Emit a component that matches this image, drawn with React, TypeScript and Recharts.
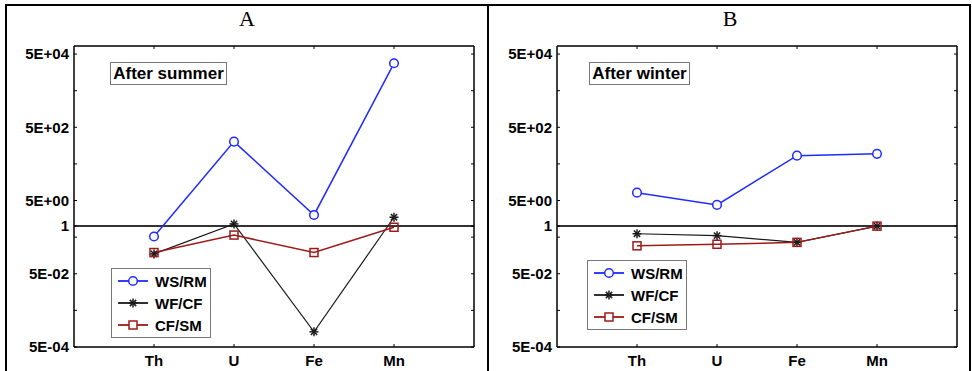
import React from 'react';
import { LineChart, Line, XAxis, YAxis, ReferenceLine } from 'recharts';

const elements = ['Th', 'U', 'Fe', 'Mn'];

// After summer (panel A)
const summerWsRm = [0.52, 203, 2.02, 28000];
const summerWfCf = [0.174, 1.15, 0.0013, 1.75];
const summerCfSm = [0.19, 0.57, 0.19, 0.93];

// After winter (panel B)
const winterWsRm = [8.2, 3.8, 84, 94];
const winterWfCf = [0.62, 0.55, 0.36, 1.0];
const winterCfSm = [0.29, 0.32, 0.36, 1.0];

const yTicks = [5e-4, 5e-2, 1, 5, 500, 5e4];
const yMinorTicks = [5e-4, 5e-3, 5e-2, 0.5, 1, 5, 50, 500, 5e3, 5e4];
const yTickLabels: Record<string, string> = {
  '0.0005': '5E-04',
  '0.05': '5E-02',
  '1': '1',
  '5': '5E+00',
  '500': '5E+02',
  '50000': '5E+04',
};

const Y_DOMAIN: [number, number] = [5e-4, 8.3e4];
const BLUE = '#1f2bff';
const RED = '#9e1a1a';
const BLACK = '#1a1a1a';
const FONT = 'Arial, "Liberation Sans", sans-serif';

const CircleDot = (props: any) => {
  const { cx, cy, index } = props;
  return <circle key={index} cx={cx} cy={cy} r={4.3} fill="#fff" stroke={BLUE} strokeWidth={1.5} />;
};

const StarDot = (props: any) => {
  const { cx, cy, index } = props;
  const r = 4.5;
  const d = r * 0.7;
  return (
    <g key={index} stroke={BLACK} strokeWidth={1.5}>
      <line x1={cx} y1={cy - r} x2={cx} y2={cy + r} />
      <line x1={cx - r} y1={cy} x2={cx + r} y2={cy} />
      <line x1={cx - d} y1={cy - d} x2={cx + d} y2={cy + d} />
      <line x1={cx - d} y1={cy + d} x2={cx + d} y2={cy - d} />
    </g>
  );
};

const SquareDot = (props: any) => {
  const { cx, cy, index } = props;
  return <rect key={index} x={cx - 4} y={cy - 4} width={8} height={8} fill="none" stroke={RED} strokeWidth={1.5} />;
};

function LegendIcon({ kind }: { kind: string }) {
  const color = kind === 'ws' ? BLUE : kind === 'wf' ? BLACK : RED;
  return (
    <svg width={32} height={14} style={{ display: 'block' }}>
      <line x1={1} y1={7} x2={31} y2={7} stroke={color} strokeWidth={1.8} />
      {kind === 'ws' && <CircleDot cx={16} cy={7} />}
      {kind === 'wf' && <StarDot cx={16} cy={7} />}
      {kind === 'cf' && <rect x={12} y={3} width={8} height={8} fill="#fff" stroke={RED} strokeWidth={1.5} />}
    </svg>
  );
}

interface PanelProps {
  left: number;
  title: string;
  note: string;
  noteBox: { left: number; top: number; width: number };
  legendBox: { left: number; top: number; width: number };
  wsRm: number[];
  wfCf: number[];
  cfSm: number[];
}

function Panel({ left, title, note, noteBox, legendBox, wsRm, wfCf, cfSm }: PanelProps) {
  const data = elements.map((el, i) => ({
    el,
    wsRm: wsRm[i],
    wfCf: wfCf[i],
    cfSm: cfSm[i],
  }));

  const emptyLabel = () => '';

  return (
    <div style={{ position: 'absolute', left, top: 0, width: 482, height: 371 }}>
      <div
        style={{
          position: 'absolute',
          left: 0,
          width: 482,
          top: 6,
          textAlign: 'center',
          fontFamily: '"Liberation Serif", "Times New Roman", serif',
          fontSize: 22,
          lineHeight: '26px',
        }}
      >
        {title}
      </div>
      <LineChart width={482} height={371} data={data} margin={{ top: 46, right: 14, bottom: 0, left: 0 }}>
        <XAxis
          dataKey="el"
          xAxisId={0}
          padding={{ left: 80, right: 80 }}
          height={24}
          tickLine={false}
          tickSize={0}
          tickMargin={8}
          axisLine={{ stroke: '#000', strokeWidth: 1.5 }}
          tick={{ fill: '#000', fontSize: 15, fontWeight: 700, fontFamily: FONT }}
        />
        <XAxis
          dataKey="el"
          xAxisId="bottomIn"
          padding={{ left: 80, right: 80 }}
          mirror
          axisLine={false}
          tickSize={3}
          tickLine={{ stroke: '#000' }}
          tickFormatter={emptyLabel}
        />
        <XAxis
          dataKey="el"
          xAxisId="top"
          orientation="top"
          padding={{ left: 80, right: 80 }}
          mirror
          tickSize={3}
          axisLine={{ stroke: '#000', strokeWidth: 1.5 }}
          tickLine={{ stroke: '#000' }}
          tickFormatter={emptyLabel}
        />
        <YAxis
          yAxisId="left"
          type="number"
          scale="log"
          domain={Y_DOMAIN}
          allowDataOverflow
          ticks={yTicks}
          interval={0}
          width={68}
          tickLine={false}
          tickSize={0}
          tickMargin={5}
          axisLine={{ stroke: '#000', strokeWidth: 1.5 }}
          tickFormatter={(v: number) => yTickLabels[String(v)] ?? ''}
          tick={{ fill: '#000', fontSize: 15, fontWeight: 700, fontFamily: FONT }}
        />
        <YAxis
          yAxisId="leftIn"
          type="number"
          scale="log"
          domain={Y_DOMAIN}
          allowDataOverflow
          ticks={yMinorTicks}
          interval={0}
          mirror
          axisLine={false}
          tickSize={3}
          tickLine={{ stroke: '#000' }}
          tickFormatter={emptyLabel}
        />
        <YAxis
          yAxisId="right"
          orientation="right"
          type="number"
          scale="log"
          domain={Y_DOMAIN}
          allowDataOverflow
          ticks={yMinorTicks}
          interval={0}
          mirror
          tickSize={3}
          axisLine={{ stroke: '#000', strokeWidth: 1.5 }}
          tickLine={{ stroke: '#000' }}
          tickFormatter={emptyLabel}
        />
        <ReferenceLine yAxisId="left" y={1} stroke="#333" strokeWidth={2} />
        <Line
          yAxisId="left"
          dataKey="wsRm"
          stroke={BLUE}
          strokeWidth={1.5}
          dot={CircleDot}
          isAnimationActive={false}
        />
        <Line
          yAxisId="left"
          dataKey="wfCf"
          stroke={BLACK}
          strokeWidth={1.2}
          dot={StarDot}
          isAnimationActive={false}
        />
        <Line
          yAxisId="left"
          dataKey="cfSm"
          stroke={RED}
          strokeWidth={1.5}
          dot={SquareDot}
          isAnimationActive={false}
        />
      </LineChart>
      <div
        style={{
          position: 'absolute',
          left: noteBox.left,
          top: noteBox.top,
          width: noteBox.width,
          height: 23,
          border: '1.5px solid #777',
          background: '#fff',
          fontFamily: FONT,
          fontWeight: 700,
          fontSize: 17,
          lineHeight: '21px',
          textAlign: 'center',
          boxSizing: 'border-box',
        }}
      >
        {note}
      </div>
      <div
        style={{
          position: 'absolute',
          left: legendBox.left,
          top: legendBox.top,
          width: legendBox.width,
          height: 70,
          border: '1.5px solid #777',
          background: '#fff',
          boxSizing: 'border-box',
          padding: '1px 0 0 5px',
          fontFamily: FONT,
          fontWeight: 700,
          fontSize: 15,
        }}
      >
        {[
          ['ws', 'WS/RM'],
          ['wf', 'WF/CF'],
          ['cf', 'CF/SM'],
        ].map(([k, label]) => (
          <div key={k} style={{ display: 'flex', alignItems: 'center', height: 22 }}>
            <LegendIcon kind={k} />
            <span style={{ marginLeft: 6 }}>{label}</span>
          </div>
        ))}
      </div>
    </div>
  );
}

export default function App() {
  return (
    <div style={{ position: 'absolute', left: 0, top: 0, width: 972, height: 371, background: '#fff', overflow: 'hidden' }}>
      <div
        style={{
          position: 'absolute',
          left: 5,
          top: 4,
          width: 966,
          height: 400,
          border: '2px solid #000',
          boxSizing: 'border-box',
        }}
      />
      <div style={{ position: 'absolute', left: 487, top: 4, width: 2, height: 371, background: '#000' }} />
      <Panel
        left={6}
        title="A"
        note="After summer"
        noteBox={{ left: 104, top: 62, width: 117 }}
        legendBox={{ left: 105, top: 268, width: 100 }}
        wsRm={summerWsRm}
        wfCf={summerWfCf}
        cfSm={summerCfSm}
      />
      <Panel
        left={489}
        title="B"
        note="After winter"
        noteBox={{ left: 100, top: 62, width: 101 }}
        legendBox={{ left: 98, top: 260, width: 100 }}
        wsRm={winterWsRm}
        wfCf={winterWfCf}
        cfSm={winterCfSm}
      />
    </div>
  );
}
